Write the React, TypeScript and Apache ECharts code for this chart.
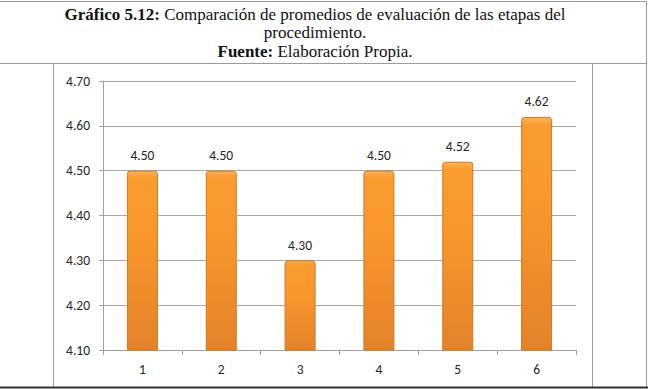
import React, { useEffect, useRef } from "react";
import * as echarts from "echarts";

const categories = ["1", "2", "3", "4", "5", "6"];
const values = [4.5, 4.5, 4.3, 4.5, 4.52, 4.62];
const yMin = 4.1;
const yMax = 4.7;
const yStep = 0.1;
const titleLine1Bold = "Gráfico 5.12:";
const titleLine1 = " Comparación de promedios de evaluación de las etapas del";
const titleLine2 = "procedimiento.";
const titleLine3Bold = "Fuente:";
const titleLine3 = " Elaboración Propia.";

export default function App() {
  const ref = useRef<HTMLDivElement>(null);
  useEffect(() => {
    if (!ref.current) return;
    const chart = echarts.init(ref.current, null, { renderer: "svg" });
    const serif = "'Liberation Serif', 'Times New Roman', serif";
    const sans = "Carlito, Lato, 'Open Sans', sans-serif";
    const frame = "#9a9a9a";
    const fs = 13.5;
    const tfs = 17;
    const lineEl = (x1: number, y1: number, x2: number, y2: number, stroke = frame, w = 1) => ({
      type: "line",
      shape: { x1, y1, x2, y2 },
      style: { stroke, lineWidth: w },
      silent: true,
    });
    chart.setOption({
      animation: false,
      backgroundColor: "#ffffff",
      grid: { left: 103, right: 75, top: 81, bottom: 39 },
      xAxis: {
        type: "category",
        data: categories,
        axisLine: { lineStyle: { color: "#a0a0a0" } },
        axisTick: { show: true, length: 5, lineStyle: { color: "#a0a0a0" } },
        axisLabel: { color: "#262626", fontFamily: sans, fontSize: fs, margin: 12 },
      },
      yAxis: {
        type: "value",
        min: yMin,
        max: yMax,
        interval: yStep,
        axisLine: { show: true, lineStyle: { color: "#a0a0a0" } },
        axisTick: { show: true, length: 4, lineStyle: { color: "#a0a0a0" } },
        splitLine: { lineStyle: { color: "#a8a8a8" } },
        axisLabel: {
          color: "#262626",
          fontFamily: sans,
          fontSize: fs,
          margin: 13,
          formatter: (v: number) => v.toFixed(2),
        },
      },
      series: [
        {
          type: "bar",
          data: values,
          barWidth: 31,
          itemStyle: {
            color: new echarts.graphic.LinearGradient(0, 0, 0, 1, [
              { offset: 0, color: "#FDB45A" },
              { offset: 0.035, color: "#FA9C30" },
              { offset: 0.4, color: "#F8962C" },
              { offset: 1, color: "#E4822A" },
            ]),
            borderColor: "#D2781F",
            borderWidth: 1,
            borderRadius: [3, 3, 0, 0],
          },
          label: {
            show: true,
            position: "top",
            distance: 8,
            color: "#262626",
            fontFamily: sans,
            fontSize: fs,
            formatter: (p: any) => Number(p.value).toFixed(2),
          },
        },
      ],
      graphic: [
        lineEl(0, 1.5, 646, 1.5),
        lineEl(0, 63.5, 646, 63.5),
        lineEl(646.5, 1, 646.5, 387),
        lineEl(53.5, 63, 53.5, 387),
        lineEl(592.5, 63, 592.5, 387),
        lineEl(0, 387.5, 648, 387.5, "#333333", 2),
        {
          type: "text",
          x: 315,
          y: 14,
          style: {
            text: `{b|${titleLine1Bold}}{r|${titleLine1}}`,
            align: "center",
            verticalAlign: "middle",
            rich: {
              b: { fontFamily: serif, fontSize: tfs, fontWeight: "bold", fill: "#111" },
              r: { fontFamily: serif, fontSize: tfs, fill: "#111" },
            },
          },
        },
        {
          type: "text",
          x: 315,
          y: 32.5,
          style: {
            text: titleLine2,
            align: "center",
            verticalAlign: "middle",
            fontFamily: serif,
            fontSize: tfs,
            fill: "#111",
          },
        },
        {
          type: "text",
          x: 315,
          y: 51,
          style: {
            text: `{b|${titleLine3Bold}}{r|${titleLine3}}`,
            align: "center",
            verticalAlign: "middle",
            rich: {
              b: { fontFamily: serif, fontSize: tfs, fontWeight: "bold", fill: "#111" },
              r: { fontFamily: serif, fontSize: tfs, fill: "#111" },
            },
          },
        },
      ],
    });
    return () => chart.dispose();
  }, []);
  return (
    <div
      ref={ref}
      style={{ position: "fixed", left: 0, top: 0, width: 651, height: 389, background: "#fff" }}
    />
  );
}
